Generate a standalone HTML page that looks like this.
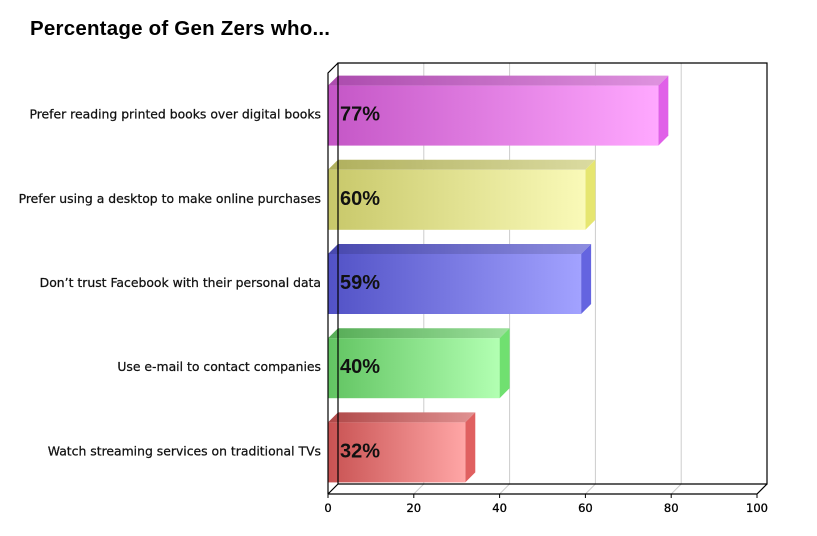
<!DOCTYPE html>
<html><head><meta charset="utf-8">
<style>
body{margin:0;background:#fff;width:817px;height:536px;overflow:hidden}
svg{display:block;font-family:"Liberation Sans",Arial,sans-serif}
</style></head>
<body>
<svg id="chart" width="817" height="536" viewBox="0 0 817 536">
<text x="30" y="35" font-size="20.5" font-weight="bold" fill="#000" textLength="300">Percentage of Gen Zers who...</text>
<g id="grid"></g><g id="bars"></g><g id="axis"></g>
</svg>
<script>
const categories=["Prefer reading printed books over digital books","Prefer using a desktop to make online purchases","Don’t trust Facebook with their personal data","Use e-mail to contact companies","Watch streaming services on traditional TVs"];
const values=[77,60,59,40,32];
const valueLabels=["77%","60%","59%","40%","32%"];
const ticks=[0,20,40,60,80,100];
const colorsDark=["#c456c6","#c8c86a","#5252c6","#62c462","#c85252"];
const colorsLight=["#ffa8ff","#fafab8","#a2a2ff","#b2ffb2","#ffa6a6"];
const colorsSide=["#e060e8","#e6e670","#6464e0","#70e070","#e06060"];
const NS="http://www.w3.org/2000/svg";
const X0=328,X1=757,D=10,YT=73,YB=494;
const x=v=>X0+(v-0)/(100)*(X1-X0);
const band=(YB-YT)/categories.length;
const yc=i=>YT+band*(i+0.5)-0.5;
function mk(t,a,p){const e=document.createElementNS(NS,t);for(const k in a)e.setAttribute(k,a[k]);p.appendChild(e);return e;}
const svg=document.getElementById('chart'),grid=document.getElementById('grid'),bars=document.getElementById('bars'),axis=document.getElementById('axis');
const defs=mk('defs',{},svg);
ticks.forEach((t,i)=>{
 if(t>0&&t<100){
  const g=mk('line',{x1:x(t)+D,y1:YT-D,x2:x(t)+D,y2:YB-D,stroke:'#cccccc','stroke-width':1},grid);
  
  const f=mk('line',{x1:x(t)+D,y1:YB-D,x2:x(t),y2:YB,stroke:'#cccccc','stroke-width':1},grid);
  
 }
});
const frame=mk('path',{d:`M${X0+D},${YT-D}H${X1+D}V${YB-D}H${X0+D}Z M${X0},${YB}L${X0},${YT}L${X0+D},${YT-D} M${X0},${YB}H${X1}L${X1+D},${YB-D} M${X0},${YB}L${X0+D},${YB-D}`,fill:'none',stroke:'#000','stroke-width':1.2},axis);

ticks.forEach(t=>{
 const tl=mk('line',{x1:x(t),y1:YB,x2:x(t),y2:YB+4,stroke:'#000'},axis);
 
 const tx=mk('text',{x:x(t),y:YB+18,'text-anchor':'middle','font-size':11.5,fill:'#000',stroke:'#000','stroke-width':0.3,'font-family':'"DejaVu Sans",sans-serif'},axis);
 tx.textContent=t;
 
});
const H=60;
categories.forEach((c,i)=>{
 const gid='g'+i;
 const lg=mk('linearGradient',{id:gid,x1:0,y1:0,x2:1,y2:0},defs);
 mk('stop',{offset:0,'stop-color':colorsDark[i]},lg);mk('stop',{offset:1,'stop-color':colorsLight[i]},lg);
 const g=mk('g',{},bars);
 
 const top=yc(i)-H/2+1,xr=x(values[i]);
 mk('polygon',{points:`${X0},${top} ${X0+D},${top-D} ${xr+D},${top-D} ${xr},${top}`,fill:`url(#${gid})`},g);
 mk('polygon',{points:`${X0},${top} ${X0+D},${top-D} ${xr+D},${top-D} ${xr},${top}`,fill:'#000',opacity:0.12},g);
 mk('polygon',{points:`${xr},${top} ${xr+D},${top-D} ${xr+D},${top+H-D} ${xr},${top+H}`,fill:colorsSide[i]},g);
 mk('rect',{x:X0,y:top,width:xr-X0,height:H,fill:`url(#${gid})`},g);
 const vl=mk('text',{x:X0+12,y:yc(i)+6,'font-size':20,'font-weight':'bold',fill:'#111'},bars);
 vl.textContent=valueLabels[i];
 
 const cl=mk('text',{x:321,y:yc(i)+4,'text-anchor':'end','font-size':12.4,fill:'#111',stroke:'#111','stroke-width':0.25,'font-family':'"DejaVu Sans",sans-serif'},axis);
 cl.textContent=c;
 
});
</script>
</body></html>
